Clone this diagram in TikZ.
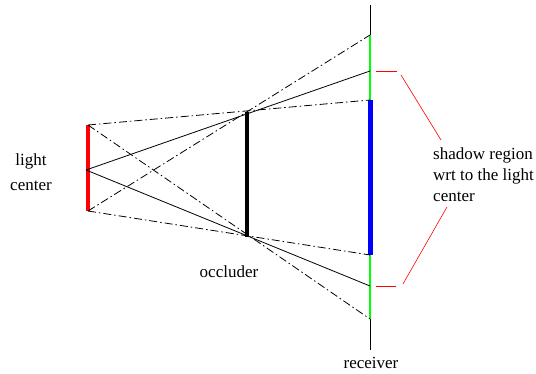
\documentclass[tikz,border=0pt]{standalone}
\usepackage{fontspec}
\setmainfont{Liberation Serif}
\usetikzlibrary{positioning,calc}

\tikzset{
  ray/.style={black, line width=0.8pt},
  dashray/.style={black, line width=0.8pt, dash pattern=on 8pt off 3pt on 1.5pt off 3pt},
  caption/.style={font=\fontsize{17}{21}\selectfont, inner sep=0pt},
  bracket/.style={red, line width=0.6pt},
}

\begin{document}
\begin{tikzpicture}[x=1pt,y=-1pt]
\useasboundingbox (0,0) rectangle (536,374);

% light source
\coordinate (lt) at (88,125);
\coordinate (lc) at (86,170);
\coordinate (lb) at (88,211);
% occluder
\coordinate (ot) at (247,112);
\coordinate (ob) at (247,237);
% receiver
\coordinate (rtop) at (370,5);
\coordinate (r1) at (370,35);
\coordinate (r2) at (370,71);
\coordinate (r3) at (370,100);
\coordinate (r4) at (370,255);
\coordinate (r5) at (370,286);
\coordinate (r6) at (370,319);
\coordinate (rbot) at (370,350);

\draw[line width=0.8pt] (rtop) -- (rbot);
\draw[green, line width=2pt] (r1) -- (r3);
\draw[green, line width=2pt] (r4) -- (r6);
\draw[blue, line width=5pt] (r3) -- (r4);

\draw[red, line width=4pt] (lt) -- (lb);
\draw[line width=4pt] (ot) -- (ob);

% rays from the center
\draw[ray] (lc) -- (r2);
\draw[ray] (lc) -- (r5);
% rays from the ends
\draw[dashray] (lt) -- (r3);
\draw[dashray] (lb) -- (r4);
\draw[dashray] (lb) -- (r1);
\draw[dashray] (lt) -- (r6);

% shadow bracket
\coordinate (b1) at (376,71);
\coordinate (b2) at (397,71);
\coordinate (b3) at (401,75);
\coordinate (b4) at (441,140);
\coordinate (b5) at (447,207);
\coordinate (b6) at (403,284);
\coordinate (b7) at (396,286);
\coordinate (b8) at (376,286);
\draw[bracket] (b1) -- (b2);
\draw[bracket] (b3) -- (b4);
\draw[bracket] (b5) -- (b6);
\draw[bracket] (b7) -- (b8);

\node[caption, align=center, font=\fontsize{17}{25}\selectfont] (lightlbl) at (31,172) {light\\center};
\node[caption] (occlbl) at (229,272) {occluder};
\node[caption] (reclbl) at (371,363) {receiver};
\node[caption, align=left, anchor=west] (shadowlbl) at (433,175) {shadow region\\wrt to the light\\center};

\end{tikzpicture}
\end{document}
